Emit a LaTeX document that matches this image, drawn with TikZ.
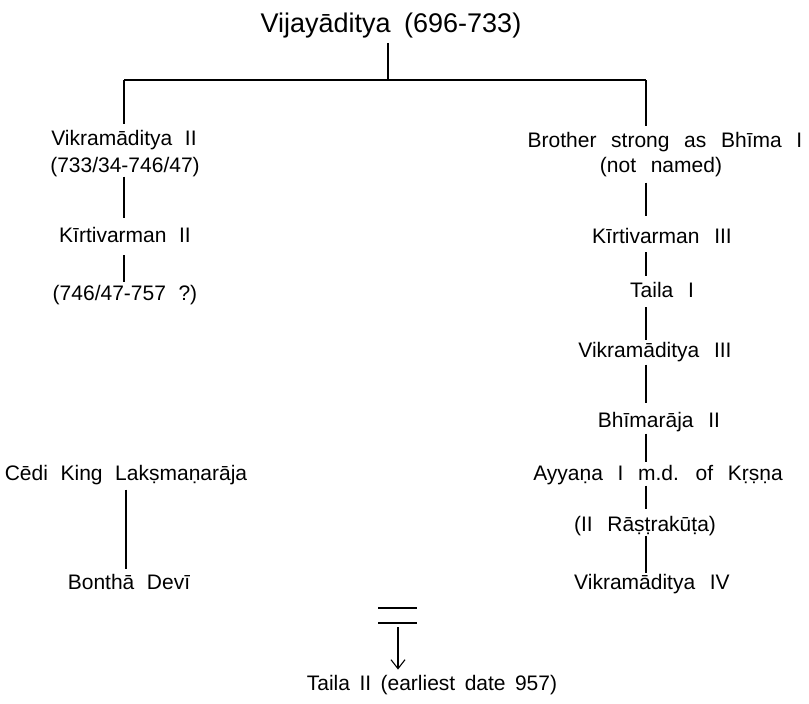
\documentclass[tikz,border=0pt]{standalone}
\usepackage{fontspec}
\setmainfont{Liberation Sans}
\usetikzlibrary{arrows.meta}
\newcommand\bodyfnt{\fontsize{21}{24}\selectfont\spaceskip=0.6em\relax}
\newcommand\widefnt{\fontsize{21}{24}\selectfont\spaceskip=0.7em\relax}
\newcommand\tightfnt{\fontsize{21}{24}\selectfont\spaceskip=0.45em\relax}
\newcommand\ttlfnt{\fontsize{27}{30}\selectfont\spaceskip=0.5em\relax}
\begin{document}
\begin{tikzpicture}[x=1pt,y=-1pt,
  lbl/.style={inner sep=0pt, anchor=base, font=\bodyfnt},
  rlbl/.style={inner sep=0pt, anchor=base, font=\widefnt},
  blbl/.style={inner sep=0pt, anchor=base, font=\tightfnt},
  ttl/.style={inner sep=0pt, anchor=base, font=\ttlfnt},
  link/.style={line width=1.1pt},
  barline/.style={line width=2.2pt},
  dbl/.style={line width=1.1pt}]
\useasboundingbox (0,0) rectangle (809,704);
% title
\node[ttl] (t) at (391,32) {Vijayāditya (696-733)};
\coordinate (tb) at (388,80);
\coordinate (bl) at (124,80);
\coordinate (br) at (646,80);
% column axes
\coordinate (L) at (124,0);
\coordinate (R) at (646,0);
\coordinate (C) at (126,0);
% left column
\node[lbl] (v2)  at (124,145) {Vikramāditya II};
\node[lbl] (v2d) at (125,172) {(733/34-746/47)};
\node[lbl] (k2)  at (125,242) {Kīrtivarman II};
\node[lbl] (k2d) at (125,300) {(746/47-757 ?)};
\node[lbl] (ce)  at (126,480) {Cēdi King Lakṣmaṇarāja};
\node[lbl] (bd)  at (129,589) {Bonthā Devī};
% right column
\node[rlbl] (br1) at (665,147) {Brother strong as Bhīma I};
\node[rlbl] (nn)  at (661,172) {(not named)};
\node[rlbl] (k3)  at (662,243) {Kīrtivarman III};
\node[rlbl] (t1)  at (662,297) {Taila I};
\node[rlbl] (v3)  at (655,357) {Vikramāditya III};
\node[rlbl] (b2)  at (659,427) {Bhīmarāja II};
\node[rlbl] (ay)  at (658,480) {Ayyaṇa I m.d. of Kṛṣṇa};
\node[rlbl] (ra)  at (645,531) {(II Rāṣṭrakūṭa)};
\node[rlbl] (v4)  at (652,589) {Vikramāditya IV};
% bottom
\coordinate (d1l) at (378,608);
\coordinate (d1r) at (417,608);
\coordinate (d2l) at (378,623);
\coordinate (d2r) at (417,623);
\coordinate (ar) at (398,627);
\node[blbl] (t2) at (432,690) {Taila II (earliest date 957)};
% connectors
\draw[link,shorten <=5pt] (tb |- t.south) -- (tb);
\draw[barline] (bl) -- (br);
\draw[link,shorten >=6pt] (bl) -- (L |- v2.north);
\draw[link,shorten >=6pt] (br) -- (R |- br1.north);
\draw[link,shorten >=9pt] (L |- v2d.south) -- (L |- k2.north);
\draw[link,shorten <=13pt,shorten >=3pt] (L |- k2.south) -- (L |- k2d.north);
\draw[link,shorten <=6pt,shorten >=12pt] (R |- nn.south) -- (R |- k3.north);
\draw[link,shorten <=9pt,shorten >=6pt] (R |- k3.south) -- (R |- t1.north);
\draw[link,shorten <=10pt,shorten >=2pt] (R |- t1.south) -- (R |- v3.north);
\draw[link,shorten <=3pt,shorten >=9pt] (R |- v3.south) -- (R |- b2.north);
\draw[link,shorten <=2pt,shorten >=3pt] (R |- b2.south) -- (R |- ay.north);
\draw[link,shorten <=1pt,shorten >=7pt] (R |- ay.south) -- (R |- ra.north);
\draw[link,shorten <=0pt,shorten >=1pt] (R |- ra.south) -- (R |- v4.north);
\draw[link,shorten <=5pt,shorten >=5pt] (C |- ce.south) -- (C |- bd.north);
\draw[dbl] (d1l) -- (d1r);
\draw[dbl] (d2l) -- (d2r);
\draw[link,-{Straight Barb[length=9pt,width=14pt]},shorten >=5pt] (ar) -- (ar |- t2.north);
\end{tikzpicture}
\end{document}
